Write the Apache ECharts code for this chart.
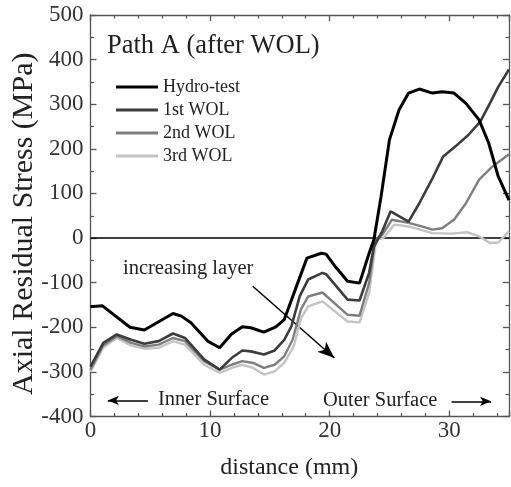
<!DOCTYPE html>
<html><head><meta charset="utf-8">
<script src="https://cdn.jsdelivr.net/npm/echarts@6/dist/echarts.min.js"></script>
<style>html,body{margin:0;padding:0;background:#fff}#c{width:511px;height:487px}</style>
</head><body><div id="c"></div>
<script>
// Data
var hydroX = [0,1.0,3.3,4.5,6.9,7.6,8.4,9.8,10.8,11.8,12.7,13.4,14.5,15.5,16.2,17.2,18.1,19.3,19.7,20.5,21.5,22.5,23.3,23.7,24.3,25.0,25.8,26.6,27.5,28.6,29.4,30.4,31.4,32.5,33.3,34.1,35];
var hydroY = [-154,-152,-200,-206,-169,-175,-190,-231,-246,-215,-199,-201,-211,-199,-183,-110,-45,-34,-36,-65,-97,-101,-34,-4,93,220,287,325,334,325,328,325,302,265,213,138,85];
var wol1X = [0,1.07,2.2,3.4,4.5,5.7,6.9,7.9,9.5,10.8,11.8,12.7,13.4,14.5,15.4,16.2,16.8,17.5,18.2,19.4,19.7,21.5,22.5,23.3,23.7,24.4,25.1,26.6,27.5,28.6,29.5,30.5,31.6,32.6,33.4,34.1,35];
var wol1Y = [-288,-235,-216,-228,-237,-231,-214,-224,-272,-295,-269,-252,-254,-261,-252,-228,-198,-130,-93,-78,-81,-138,-140,-78,-19,15,60,37,78,134,183,205,231,261,302,339,378];
var wol2X = [0,1.05,2.2,3.4,4.5,5.7,6.9,7.9,9.5,10.8,11.8,12.7,13.6,14.5,15.4,16.2,16.9,17.6,18.2,19.4,21.5,22.5,23.3,23.8,24.4,25.2,26.6,27.7,28.6,29.4,30.4,31.4,32.5,33.6,35];
var wol2Y = [-295,-241,-220,-235,-243,-239,-224,-231,-276,-295,-284,-276,-280,-291,-284,-265,-228,-160,-131,-122,-172,-174,-101,-4,7,41,34,26,19,22,41,78,131,160,188];
var wol3X = [0,1.05,2.2,3.4,4.5,5.7,6.9,7.9,9.5,10.8,11.8,12.7,13.6,14.5,15.4,16.2,17.0,17.6,18.2,19.4,21.5,22.5,23.3,23.9,24.5,25.4,26.6,28.6,30.2,31.5,32.5,33.4,34.1,35];
var wol3Y = [-300,-246,-224,-241,-248,-246,-231,-239,-284,-302,-291,-284,-291,-306,-299,-280,-243,-180,-153,-142,-187,-189,-123,-4,0,30,26,11,10,13,4,-11,-10,15];
var seriesNames = ['Hydro-test','1st WOL','2nd WOL','3rd WOL'];
var xTicks = [0,10,20,30];
var yTicks = [-400,-300,-200,-100,0,100,200,300,400,500];

function pairs(xs, ys){ return xs.map(function(x,i){return [x, ys[i]];}); }

var FONT = '"Liberation Serif","Times New Roman",serif';
var AX = '#555';
function tick(){ return {show:true, inside:true, length:6, lineStyle:{color:AX,width:1.3}}; }
function minor(n){ return {show:true, splitNumber:n, length:3.5, lineStyle:{color:AX,width:1.2}}; }
function line(){ return {show:true, onZero:false, lineStyle:{color:AX,width:1.3}}; }

var chart = echarts.init(document.getElementById('c'), null, {renderer:'canvas'});
var colors = ['#000000','#3c3c3c','#7e7e7e','#c4c4c4'];
var widths = [3,2.6,2.4,2.4];
var datas = [pairs(hydroX,hydroY), pairs(wol1X,wol1Y), pairs(wol2X,wol2Y), pairs(wol3X,wol3Y)];
var series = [];
for (var i=3;i>=0;i--){
  series.push({name:seriesNames[i], type:'line', data:datas[i], symbol:'none', z:10-i,
    lineStyle:{color:colors[i], width:widths[i]}, itemStyle:{color:colors[i]}, animation:false});
}
series.push({type:'line', data:[], symbol:'none', animation:false, silent:true,
  markLine:{silent:true, animation:false, label:{show:false},
    data:[
      [{coord:[0,0],symbol:'none',lineStyle:{color:'#000',width:1.6,type:'solid'}},{coord:[35,0],symbol:'none'}],
      [{coord:[13.57,-108],symbol:'none',lineStyle:{color:'#000',width:1.5,type:'solid'}},{coord:[20.4,-269],symbol:'arrow',symbolSize:[10,17]}],
      [{coord:[4.8,-364],symbol:'none',lineStyle:{color:'#000',width:1.5,type:'solid'}},{coord:[1.45,-364],symbol:'arrow',symbolSize:[7,11]}],
      [{coord:[30.2,-366],symbol:'none',lineStyle:{color:'#000',width:1.5,type:'solid'}},{coord:[33.5,-366],symbol:'arrow',symbolSize:[7,11]}]
    ]}});

chart.setOption({
  animation:false,
  grid:{left:90.5, right:2, top:15, bottom:70.5, containLabel:false, outerBoundsMode:'none'},
  legend:{show:true, orient:'vertical', left:116, top:78, padding:0, itemWidth:42, itemHeight:3, itemGap:5,
    icon:'rect', data:seriesNames,
    textStyle:{fontFamily:FONT, fontSize:18, color:'#222', padding:[0,0,0,0]}},
  xAxis:[
    {type:'value', min:0, max:35, interval:10, position:'bottom',
      axisLine:line(), axisTick:tick(), minorTick:minor(5), splitLine:{show:false},
      axisLabel:{show:true, fontFamily:FONT, fontSize:23, color:'#333', margin:3,
        formatter:function(v){return xTicks.indexOf(v)>=0?String(v):'';}},
      name:'distance (mm)', nameLocation:'middle', nameGap:39, nameMoveOverlap:false,
      nameTextStyle:{fontFamily:FONT, fontSize:24, color:'#222', padding:[0,21,0,0]}},
    {type:'value', min:0, max:35, interval:10, position:'top',
      axisLine:line(), axisTick:tick(), minorTick:minor(5),
      axisLabel:{show:false}, splitLine:{show:false}}
  ],
  yAxis:[
    {type:'value', min:-400, max:500, interval:100, position:'left',
      axisLine:line(), axisTick:tick(), minorTick:minor(2), splitLine:{show:false},
      axisLabel:{show:true, fontFamily:FONT, fontSize:23, color:'#333', margin:7,
        formatter:function(v){return yTicks.indexOf(v)>=0?String(v):'';}},
      name:'Axial Residual Stress (MPa)', nameLocation:'middle', nameGap:51, nameMoveOverlap:false,
      nameTextStyle:{fontFamily:FONT, fontSize:30, color:'#222', padding:[0,16,0,0]}},
    {type:'value', min:-400, max:500, interval:100, position:'right',
      axisLine:line(), axisTick:tick(), minorTick:minor(2),
      axisLabel:{show:false}, splitLine:{show:false}}
  ],
  series:series,
  graphic:[
    {type:'text', left:107, top:33, style:{text:'Path A (after WOL)', font:'26.5px '+FONT, fill:'#222'}},
    {type:'text', left:123, top:258, style:{text:'increasing layer', font:'20.5px '+FONT, fill:'#222'}},
    {type:'text', left:158, top:389, style:{text:'Inner Surface', font:'20.5px '+FONT, fill:'#222'}},
    {type:'text', left:323, top:390, style:{text:'Outer Surface', font:'20.5px '+FONT, fill:'#222'}}
  ]
});
</script></body></html>
